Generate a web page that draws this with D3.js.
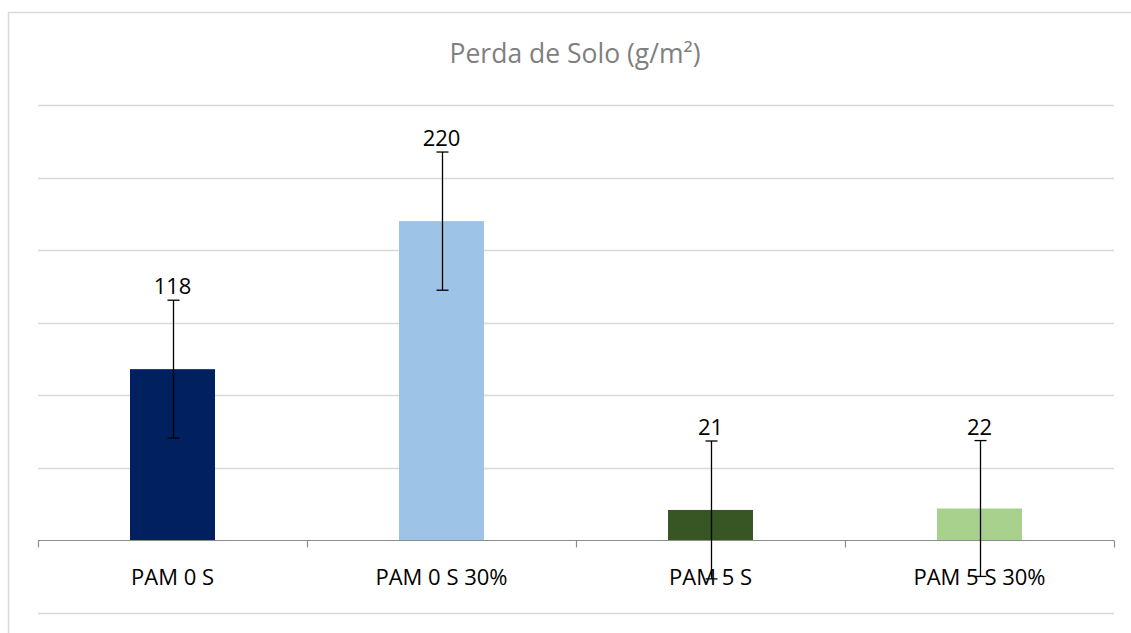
<!DOCTYPE html>
<html><head><meta charset="utf-8">
<script src="https://cdn.jsdelivr.net/npm/d3@7"></script>
<style>body{margin:0;background:#fff}svg{display:block}</style>
</head><body>
<svg id="c" width="1131" height="633"></svg>
<script>
const categories = ["PAM 0 S", "PAM 0 S 30%", "PAM 5 S", "PAM 5 S 30%"];
const values = [118, 220, 21, 22];
const errors = [47.5, 47.6, 47.5, 46.8];
const colors = ["#002060", "#9DC3E6", "#375623", "#A9D18E"];
const gridTicks = [-50, 0, 50, 100, 150, 200, 250, 300];
const title = "Perda de Solo (g/m²)";

const svg = d3.select("#c");
const left = 38, right = 1114;
const y = d3.scaleLinear().domain([-50, 300]).range([613, 105]);
const x = d3.scaleBand().domain(categories).range([left, right]).paddingInner(0.684).paddingOuter(0.342);
const band = d3.scaleBand().domain(categories).range([left, right]);

// frame
svg.append("rect").attr("x", 8.5).attr("y", 12.5).attr("width", 1140).attr("height", 640)
  .attr("fill", "none").attr("stroke", "#D9D9D9").attr("stroke-width", 1.5);

// gridlines
svg.append("g").selectAll("line").data(gridTicks.filter(d => d !== 0)).join("line")
  .attr("x1", left).attr("x2", right)
  .attr("y1", d => Math.round(y(d)) + 0.5).attr("y2", d => Math.round(y(d)) + 0.5)
  .attr("stroke", "#D9D9D9").attr("stroke-width", 1.5);

// title
svg.append("text").attr("x", 575).attr("y", 63).attr("text-anchor", "middle")
  .attr("font-family", "Open Sans, sans-serif").attr("font-size", 26.5).attr("fill", "#7F7F7F")
  .text(title);

// bars
svg.append("g").selectAll("rect").data(values).join("rect")
  .attr("x", (d, i) => x(categories[i]))
  .attr("width", x.bandwidth())
  .attr("y", d => y(d))
  .attr("height", d => y(0) - y(d))
  .attr("fill", (d, i) => colors[i]);

// axis line + ticks
const y0 = Math.round(y(0)) + 0.5;
svg.append("line").attr("x1", left).attr("x2", right).attr("y1", y0).attr("y2", y0)
  .attr("stroke", "#8C8C8C").attr("stroke-width", 1.2);
const tickXs = categories.map(c => band(c)).concat([right]);
svg.append("g").selectAll("line").data(tickXs).join("line")
  .attr("x1", d => Math.round(d) + 0.5).attr("x2", d => Math.round(d) + 0.5)
  .attr("y1", y0).attr("y2", y0 + 7)
  .attr("stroke", "#8C8C8C").attr("stroke-width", 1.2);

// category labels
svg.append("g").selectAll("text").data(categories).join("text")
  .attr("x", d => band(d) + band.bandwidth() / 2)
  .attr("y", 585).attr("text-anchor", "middle")
  .attr("font-family", "Open Sans, sans-serif").attr("font-size", 22).attr("fill", "#000")
  .text(d => d);

// error bars
const eg = svg.append("g").attr("stroke", "#000").attr("stroke-width", 1.3);
values.forEach((v, i) => {
  const cx = Math.round(x(categories[i]) + x.bandwidth() / 2) + 0.5;
  const t = y(v + errors[i]), b = y(v - errors[i]);
  eg.append("line").attr("x1", cx).attr("x2", cx).attr("y1", t).attr("y2", b);
  eg.append("line").attr("x1", cx - 6).attr("x2", cx + 6).attr("y1", t).attr("y2", t);
  eg.append("line").attr("x1", cx - 6).attr("x2", cx + 6).attr("y1", b).attr("y2", b);
});

// value labels
svg.append("g").selectAll("text").data(values).join("text")
  .attr("x", (d, i) => x(categories[i]) + x.bandwidth() / 2)
  .attr("y", (d, i) => y(d + errors[i]) - 6).attr("text-anchor", "middle")
  .attr("font-family", "Open Sans, sans-serif").attr("font-size", 22).attr("fill", "#000")
  .text(d => d);
</script>
</body></html>
